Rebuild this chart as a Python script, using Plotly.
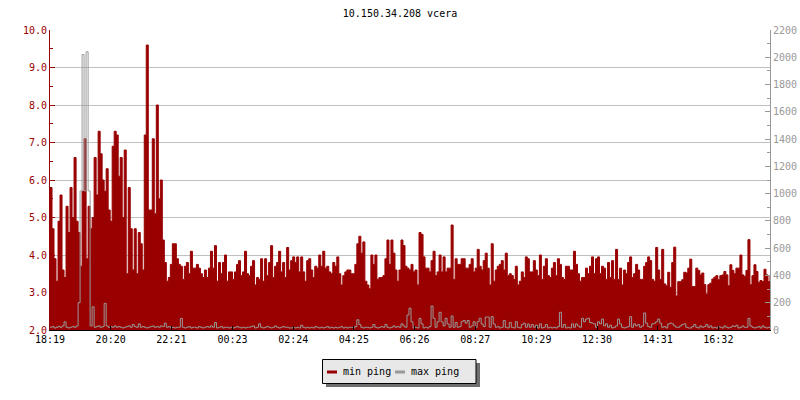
import pandas as pd
import plotly.graph_objects as go

title_text = "10.150.34.208 vcera"
start_time = "2024-01-01 18:19"
step_minutes = 4
tick_labels = ["18:19", "20:20", "22:21", "00:23", "02:24", "04:25",
               "06:26", "08:27", "10:29", "12:30", "14:31", "16:32"]
series_names = ["min ping", "max ping"]

# min ping (ms, left axis), one value per 4 minutes, 12 rows of ~2 hours
min_ping = [
    5.8, 4.7, 3.9, 3.3, 4.9, 5.6, 3.6, 3.4, 5.3, 4.6, 5.8, 5.0, 6.6, 4.9, 4.6, 3.7, 5.7, 7.1, 3.9, 5.3, 4.7, 5.0, 6.6, 5.6, 7.3, 6.7, 6.0, 5.7, 6.3, 5.2,
    4.9, 6.9, 7.3, 7.2, 6.1, 6.6, 5.0, 6.8, 3.5, 5.8, 4.7, 3.6, 4.7, 3.5, 4.6, 4.3, 3.6, 7.2, 9.6, 5.2, 5.2, 7.1, 5.1, 8.0, 5.5, 6.0, 4.4, 3.8, 3.3, 3.4,
    3.75, 4.3, 4.3, 3.9, 3.75, 3.7, 3.35, 3.7, 3.8, 3.5, 4.1, 3.65, 3.65, 3.75, 3.65, 3.5, 3.4, 3.6, 3.4, 3.65, 4.1, 3.65, 4.25, 3.3, 3.8, 3.5, 3.8, 4.0, 3.3, 3.55,
    3.55, 3.35, 3.55, 3.75, 3.85, 3.45, 3.55, 4.1, 3.5, 3.45, 3.7, 3.85, 3.2, 3.4, 3.35, 3.9, 3.3, 3.9, 3.45, 3.8, 4.25, 3.4, 3.7, 3.8, 4.1, 3.55, 3.8, 3.4, 4.2, 3.6,
    3.85, 3.95, 3.8, 3.95, 3.55, 3.95, 3.55, 3.3, 3.85, 3.9, 3.6, 3.4, 3.7, 3.65, 4.0, 3.7, 4.1, 3.65, 3.7, 3.55, 3.5, 3.8, 3.7, 3.95, 3.5, 3.2, 3.45, 3.55, 3.6, 3.6,
    3.5, 3.5, 3.75, 4.3, 4.5, 4.05, 4.35, 3.3, 3.2, 3.1, 4.0, 3.75, 4.0, 3.35, 3.4, 3.4, 3.45, 3.9, 4.4, 3.75, 4.4, 4.05, 3.6, 3.3, 3.6, 4.4, 4.25, 3.7, 3.65, 3.6,
    3.75, 3.55, 3.6, 3.2, 4.6, 4.55, 3.95, 3.65, 3.65, 3.55, 3.85, 4.1, 3.45, 3.55, 4.0, 3.55, 3.95, 3.55, 3.65, 3.65, 4.8, 3.35, 3.9, 3.75, 3.75, 3.9, 3.9, 3.65, 3.65, 3.75,
    3.9, 3.55, 3.65, 4.15, 3.7, 3.6, 3.85, 4.05, 3.65, 3.2, 4.3, 3.3, 3.6, 3.7, 3.75, 3.85, 3.6, 4.05, 3.45, 3.5, 3.45, 3.35, 3.7, 3.2, 3.3, 3.55, 3.4, 3.95, 3.9, 3.55,
    3.55, 3.85, 3.6, 3.45, 4.0, 3.35, 3.7, 3.9, 3.45, 3.4, 3.65, 3.8, 3.45, 3.9, 3.75, 3.4, 3.35, 3.7, 3.7, 3.6, 3.6, 4.1, 3.75, 3.5, 3.3, 3.4, 3.4, 3.65, 3.5, 3.7,
    3.95, 3.5, 3.9, 3.95, 3.5, 3.7, 3.65, 3.35, 3.8, 3.4, 3.85, 3.35, 4.15, 3.35, 3.65, 3.2, 3.6, 3.5, 3.8, 3.95, 3.4, 3.5, 3.75, 3.6, 3.35, 3.35, 3.7, 3.8, 3.95, 3.85,
    3.35, 3.3, 4.2, 3.6, 3.35, 4.15, 3.23, 3.18, 3.54, 3.14, 3.8, 4.21, 2.91, 3.29, 3.29, 3.34, 3.54, 3.52, 3.65, 3.89, 3.16, 3.16, 3.65, 3.59, 3.47, 3.52, 3.21, 2.96, 3.21, 3.25,
    3.36, 3.41, 3.45, 3.34, 3.45, 3.47, 3.56, 3.47, 3.18, 3.74, 3.59, 3.5, 3.65, 3.65, 4.0, 3.47, 3.43, 3.59, 4.41, 3.21, 3.45, 3.74, 3.56, 3.27, 3.32, 3.29, 3.62, 3.47, 3.29, 3.47,
]

# max ping (ms, right axis)
max_ping = [
    20, 25, 15, 20, 25, 20, 30, 60, 20, 15, 20, 25, 20, 30, 200, 1020, 2020, 1020, 2040, 1020, 30, 170, 20, 25, 30, 20, 25, 195, 30, 20,
    25, 20, 30, 20, 25, 20, 15, 20, 25, 30, 20, 40, 25, 20, 45, 20, 25, 20, 15, 20, 25, 30, 20, 25, 20, 30, 25, 50, 20, 25,
    15, 20, 15, 20, 20, 85, 20, 15, 20, 25, 15, 20, 20, 15, 25, 20, 15, 20, 25, 20, 30, 20, 55, 15, 20, 25, 15, 20, 20, 15,
    20, 15, 20, 25, 20, 15, 20, 15, 20, 20, 25, 30, 15, 20, 45, 20, 15, 20, 25, 20, 15, 20, 30, 20, 15, 20, 25, 20, 20, 15,
    15, 20, 15, 20, 15, 35, 20, 15, 20, 15, 20, 15, 25, 20, 15, 20, 15, 20, 25, 15, 20, 15, 20, 15, 20, 25, 15, 20, 15, 20,
    20, 15, 25, 75, 40, 20, 15, 20, 20, 15, 20, 40, 20, 15, 20, 25, 20, 40, 20, 15, 20, 30, 20, 25, 20, 45, 30, 20, 110, 160,
    60, 15, 20, 15, 85, 45, 15, 20, 15, 25, 176, 86, 20, 60, 130, 60, 30, 86, 44, 20, 103, 20, 55, 20, 25, 61, 70, 50, 70, 20,
    30, 60, 20, 61, 86, 44, 25, 95, 95, 20, 98, 44, 20, 25, 15, 20, 70, 20, 15, 55, 20, 15, 61, 20, 15, 40, 50, 20, 44, 20,
    40, 20, 35, 15, 45, 15, 20, 40, 15, 20, 15, 20, 15, 25, 130, 20, 40, 15, 20, 15, 45, 20, 45, 30, 20, 86, 60, 80, 86, 55,
    50, 45, 20, 60, 45, 80, 30, 45, 20, 35, 15, 20, 30, 80, 45, 20, 15, 20, 25, 98, 20, 45, 30, 40, 20, 30, 125, 50, 25, 20,
    45, 50, 60, 80, 50, 20, 25, 15, 45, 50, 45, 30, 20, 20, 30, 40, 45, 20, 15, 15, 25, 40, 20, 15, 30, 20, 25, 40, 20, 30,
    15, 20, 15, 25, 20, 15, 30, 20, 15, 20, 30, 25, 35, 15, 20, 30, 20, 20, 85, 30, 20, 15, 20, 25, 15, 30, 20, 15, 20, 15,
]

RED = "#990000"
GRAY = "#999999"
FONT = "DejaVu Sans Mono"

# plot area geometry (pixels) used to place the hand-drawn legend box
L, R, T, B = 50, 770, 30, 330
def px(x):
    return (x - L) / (R - L)
def py(y):
    return (B - y) / (B - T)

times = pd.date_range(start_time, periods=len(min_ping), freq=f"{step_minutes}min")
t0 = pd.Timestamp(start_time)
tickvals = []
for lab in tick_labels:
    t = pd.Timestamp(f"{t0.date()} {lab}")
    if t < t0:
        t += pd.Timedelta(days=1)
    tickvals.append(t)

fig = go.Figure()
fig.add_trace(go.Scatter(
    x=times, y=min_ping, name=series_names[0], mode="lines",
    line=dict(color=RED, width=1, shape="hv"), fill="tozeroy", fillcolor=RED,
    yaxis="y", showlegend=False,
))
fig.add_trace(go.Scatter(
    x=times, y=max_ping, name=series_names[1], mode="lines",
    line=dict(color=GRAY, width=1, shape="hv"),
    yaxis="y2", showlegend=False,
))

# legend box (drawn like the original: grey box, black border, dark drop shadow)
shapes = [
    dict(type="rect", xref="paper", yref="paper",
         x0=px(326), x1=px(480), y0=py(387), y1=py(363),
         fillcolor="#6e6e6e", line=dict(width=0), layer="above"),
    dict(type="rect", xref="paper", yref="paper",
         x0=px(322.5), x1=px(476), y0=py(383.5), y1=py(359.5),
         fillcolor="#e8e8e8", line=dict(color="black", width=1), layer="above"),
    dict(type="line", xref="paper", yref="paper",
         x0=px(327), x1=px(337), y0=py(372), y1=py(372),
         line=dict(color=RED, width=3), layer="above"),
    dict(type="line", xref="paper", yref="paper",
         x0=px(395), x1=px(405), y0=py(372), y1=py(372),
         line=dict(color=GRAY, width=3), layer="above"),
]
annotations = [
    dict(text=series_names[0], xref="paper", yref="paper", x=px(341), y=py(371.5),
         xanchor="left", yanchor="middle", showarrow=False,
         font=dict(family=FONT, size=10, color="black")),
    dict(text=series_names[1], xref="paper", yref="paper", x=px(409), y=py(371.5),
         xanchor="left", yanchor="middle", showarrow=False,
         font=dict(family=FONT, size=10, color="black")),
]

fig.update_layout(
    width=800, height=400,
    margin=dict(l=L, r=800 - R, t=T, b=400 - B, autoexpand=False),
    paper_bgcolor="white", plot_bgcolor="white",
    title=dict(text=title_text, x=0.5, xanchor="center", y=1 - 13 / 400, yanchor="middle",
               font=dict(family=FONT, size=10, color="black")),
    font=dict(family=FONT, size=10, color="black"),
    showlegend=False,
    hovermode=False,
    shapes=shapes,
    annotations=annotations,
    xaxis=dict(
        type="date", range=[times[0], times[-1]],
        tickmode="array", tickvals=tickvals, ticktext=tick_labels,
        ticks="inside", ticklen=4, tickcolor="black",
        showline=True, linecolor="black", linewidth=1,
        showgrid=False, zeroline=False,
        tickfont=dict(family=FONT, size=10, color="black"),
    ),
    yaxis=dict(
        range=[2, 10], dtick=1, tick0=2, tickformat=".1f",
        ticks="inside", ticklen=5, tickcolor=RED,
        showline=True, linecolor=RED, linewidth=1,
        showgrid=True, gridcolor="#c0c0c0", gridwidth=1, zeroline=False,
        tickfont=dict(family=FONT, size=10, color=RED),
        minor=dict(dtick=0.5, ticks="inside", ticklen=3, tickcolor=RED, showgrid=False),
    ),
    yaxis2=dict(
        range=[0, 2200], dtick=200, tick0=0, overlaying="y", side="right",
        ticks="inside", ticklen=5, tickcolor=GRAY,
        showline=True, linecolor=GRAY, linewidth=1,
        showgrid=False, zeroline=False,
        tickfont=dict(family=FONT, size=10, color=GRAY),
        minor=dict(dtick=100, ticks="inside", ticklen=3, tickcolor=GRAY, showgrid=False),
    ),
)

fig.write_html("out.html", config={"displayModeBar": False},
               post_script="document.body.style.margin='0px';")
